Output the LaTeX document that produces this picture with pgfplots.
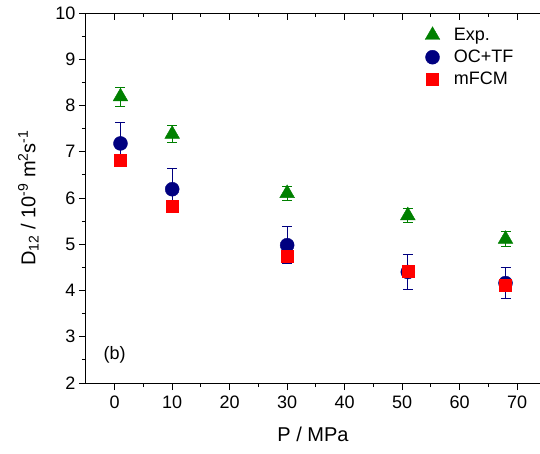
\documentclass[border=0pt]{standalone}
\usepackage{pgfplots}
\pgfplotsset{compat=1.18}
\usepackage{fontspec}
\setmainfont{Liberation Sans}
\definecolor{expg}{RGB}{0,128,0}
\definecolor{ocb}{RGB}{0,0,128}
\definecolor{mfr}{RGB}{255,0,0}
\begin{document}
\begin{tikzpicture}[x=1pt,y=1pt]
\begin{axis}[
  name=ax,
  scale only axis,
  width=454pt, height=370pt,
  xmin=-5, xmax=74, ymin=2, ymax=10,
  axis x line*=bottom, axis y line*=left,
  axis line style={line width=1pt, -},
  xtick={0,10,...,70}, ytick={2,3,...,10},
  minor x tick num=1, minor y tick num=1,
  tick align=outside,
  major tick length=7pt, minor tick length=4pt,
  every tick/.style={black, line width=1pt},
  /pgf/number format/assume math mode=true,
  tick label style={font=\fontsize{18}{20}\selectfont},
  xticklabel style={yshift=-2pt},
  xlabel={P / MPa},
  ylabel={D\textsubscript{12} / 10\textsuperscript{-9} m\textsuperscript{2}s\textsuperscript{-1}},
  label style={font=\fontsize{20}{23}\selectfont},
  xlabel style={yshift=-12pt},
  ylabel style={yshift=10pt},
  legend style={draw=none, fill=none, at={(rel axis cs:0.74,0.97)}, anchor=north west,
    font=\fontsize{18}{20}\selectfont, row sep=4pt,
    /tikz/every odd column/.append style={column sep=12pt}},
  legend cell align=left,
  clip=false,
]
\addplot[only marks, mark=triangle*, mark size=8.5pt, color=expg,
  error bars/.cd, y dir=both, y explicit,
  error bar style={color=expg, line width=0.8pt},
  error mark options={rotate=90, mark size=5pt, line width=0.8pt, color=expg}]
  coordinates {(1,8.19) +- (0,0.21) (10,7.38) +- (0,0.18) (30,6.10) +- (0,0.15) (51,5.62) +- (0,0.15) (68,5.11) +- (0,0.16)};
\addlegendentry{Exp.}
\addplot[only marks, mark=*, mark size=7pt, color=ocb,
  error bars/.cd, y dir=both, y explicit,
  error bar style={color=ocb, line width=0.8pt},
  error mark options={rotate=90, mark size=5pt, line width=0.8pt, color=ocb}]
  coordinates {(1,7.18) +- (0,0.45) (10,6.19) +- (0,0.44) (30,4.98) +- (0,0.40) (51,4.40) +- (0,0.38) (68,4.16) +- (0,0.34)};
\addlegendentry{OC+TF}
\addplot[only marks, mark=square*, mark size=6pt, color=mfr,
  error bars/.cd, y dir=both, y explicit,
  error bar style={color=mfr, line width=0.6pt},
  error mark options={rotate=90, mark size=3pt, line width=0.6pt, color=mfr}]
  coordinates {(1,6.82) +- (0,0.06) (10,5.83) +- (0,0.05) (30,4.75) +- (0,0.08) (51,4.42) +- (0,0.05) (68,4.12) +- (0,0.05)};
\addlegendentry{mFCM}
\node[font=\fontsize{18}{20}\selectfont] at (axis cs:0,2.6) {(b)};
\draw[line width=1pt] (rel axis cs:0,1) -- (rel axis cs:1,1);
\pgfplotsinvokeforeach{0,10,20,30,40,50,60,70}{\draw[line width=1pt] (axis cs:#1,10) -- ([yshift=-7pt]axis cs:#1,10);}
\pgfplotsinvokeforeach{5,15,25,35,45,55,65}{\draw[line width=1pt] (axis cs:#1,10) -- ([yshift=-4pt]axis cs:#1,10);}
\end{axis}
\pgfresetboundingbox
\path ([xshift=-86pt,yshift=-70pt]ax.south west) rectangle ++(540pt,453pt);
\end{tikzpicture}
\end{document}
